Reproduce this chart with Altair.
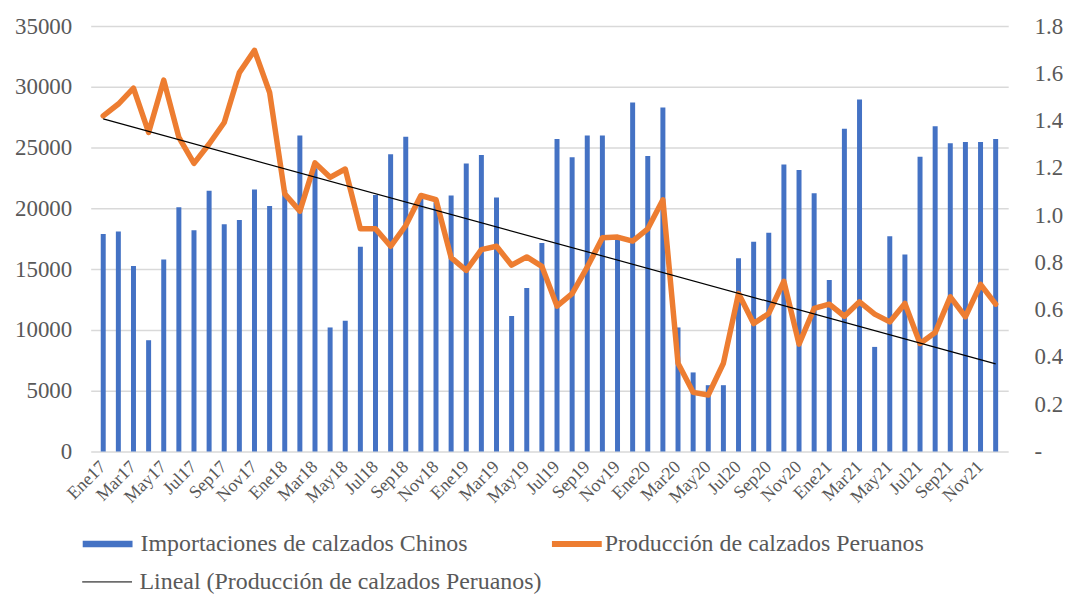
import altair as alt
import pandas as pd

meses_abrev = ["Ene", "Feb", "Mar", "Abr", "May", "Jun", "Jul", "Ago", "Sep", "Oct", "Nov", "Dic"]
anios = ["17", "18", "19", "20", "21"]
meses = [m + a for a in anios for m in meses_abrev]

importaciones = [
    17900, 18100, 15250, 9150, 15800, 20100, 18200, 21450, 18700, 19050, 21550, 20200,
    21500, 26000, 23300, 10200, 10750, 16850, 21100, 24450, 25900, 20800, 20500, 21050,
    23700, 24400, 20900, 11150, 13450, 17150, 25700, 24200, 26000, 26000, 17500, 28700,
    24300, 28300, 10200, 6500, 5450, 5450, 15900, 17250, 18000, 23600, 23150, 21250,
    14100, 26550, 28950, 8600, 17700, 16200, 24250, 26750, 25350, 25450, 25450, 25700,
]

produccion = [
    1.420, 1.470, 1.537, 1.350, 1.571, 1.329, 1.219, 1.301, 1.392, 1.603, 1.697, 1.519,
    1.090, 1.017, 1.221, 1.160, 1.195, 0.942, 0.942, 0.868, 0.956, 1.083, 1.065, 0.820,
    0.766, 0.854, 0.868, 0.788, 0.823, 0.783, 0.615, 0.668, 0.780, 0.904, 0.907, 0.890,
    0.942, 1.065, 0.373, 0.250, 0.239, 0.373, 0.668, 0.541, 0.584, 0.720, 0.454, 0.605,
    0.623, 0.572, 0.633, 0.581, 0.548, 0.626, 0.457, 0.503, 0.654, 0.570, 0.707, 0.623,
]

serie_imp = "Importaciones de calzados Chinos"
serie_prod = "Producción de calzados Peruanos"
serie_lin = "Lineal (Producción de calzados Peruanos)"

df = pd.DataFrame({
    "idx": list(range(len(meses))),
    "mes": meses,
    "imp": importaciones,
    "prod": produccion,
})
df["s_imp"] = serie_imp
df["s_prod"] = serie_prod

FONT = "Liberation Serif"
GRAY = "#595959"
PLOT_H = 427

x_enc = alt.X(
    "idx:Q",
    scale=alt.Scale(domain=[-0.5, len(meses) - 0.5], nice=False, zero=False),
    axis=alt.Axis(
        labels=False,
        ticks=False,
        domain=False,
        grid=False,
        title=None,
    ),
)

y_left = alt.Y(
    "imp:Q",
    scale=alt.Scale(domain=[0, 35000], nice=False),
    axis=alt.Axis(
        values=list(range(0, 35001, 5000)),
        format="d",
        grid=True,
        gridColor="#d9d9d9",
        gridWidth=1.5,
        ticks=False,
        domain=False,
        labelPadding=19,
        labelFont=FONT,
        labelFontSize=23,
        labelColor=GRAY,
        title=None,
    ),
)

y_right = alt.Y(
    "prod:Q",
    scale=alt.Scale(domain=[0, 1.8], nice=False),
    axis=alt.Axis(
        orient="right",
        values=[round(i * 0.2, 1) for i in range(10)],
        labelExpr="datum.value == 0 ? '-' : format(datum.value, '.1f')",
        grid=False,
        ticks=False,
        domain=False,
        labelPadding=26,
        labelAlign="left",
        labelFont=FONT,
        labelFontSize=23,
        labelColor=GRAY,
        title=None,
    ),
)

legend_common = dict(
    orient="none",
    title=None,
    labelFont=FONT,
    labelFontSize=24,
    labelColor=GRAY,
    padding=0,
    labelLimit=600,
    symbolSize=100,
)

bars = alt.Chart(df).mark_bar(size=5).encode(
    x=x_enc,
    y=y_left,
    color=alt.Color(
        "s_imp:N",
        scale=alt.Scale(domain=[serie_imp], range=["#4472C4"]),
        legend=alt.Legend(
            legendX=5, legendY=508,
            symbolType="M-5,-0.65H5V0.65H-5Z", symbolStrokeWidth=0,
            labelOffset=21,
            **legend_common,
        ),
    ),
)

# month labels along the bottom, rotated as in the reference
x_labels = alt.Chart(df).transform_filter(
    "datum.idx % 2 == 0"
).mark_text(
    angle=315, align="right", baseline="middle",
    font=FONT, fontSize=18, color=GRAY,
).encode(
    x=x_enc,
    y=alt.value(PLOT_H + 13),
    text="mes:N",
)

line = alt.Chart(df).mark_line(strokeWidth=5.5, strokeJoin="round", strokeCap="round").encode(
    x=x_enc,
    y=y_right,
    color=alt.Color(
        "s_prod:N",
        scale=alt.Scale(domain=[serie_prod], range=["#ED7D31"]),
        legend=alt.Legend(
            legendX=476, legendY=508,
            symbolType="M-5,0H5", symbolStrokeWidth=6,
            labelOffset=16,
            **legend_common,
        ),
    ),
)

trend = alt.Chart(df).transform_regression(
    "idx", "prod", method="linear"
).transform_calculate(
    s_lin=f"'{serie_lin}'"
).mark_line(strokeWidth=1.2).encode(
    x=x_enc,
    y=y_right,
    color=alt.Color(
        "s_lin:N",
        scale=alt.Scale(domain=[serie_lin], range=["#000000"]),
        legend=alt.Legend(
            legendX=4.5, legendY=546,
            symbolType="M-5,0H5", symbolStrokeWidth=1,
            labelOffset=20.5,
            **legend_common,
        ),
    ),
)

left = alt.layer(bars, x_labels)
right = alt.layer(line, trend).resolve_scale(color="independent")

chart = alt.layer(left, right).resolve_scale(
    y="independent", color="independent"
).properties(
    width=921,
    height=PLOT_H,
    padding={"left": 6, "top": 6, "right": 0, "bottom": 0},
).configure_view(
    stroke=None
)

chart.save("out.html", embed_options={"renderer": "svg", "actions": False})
